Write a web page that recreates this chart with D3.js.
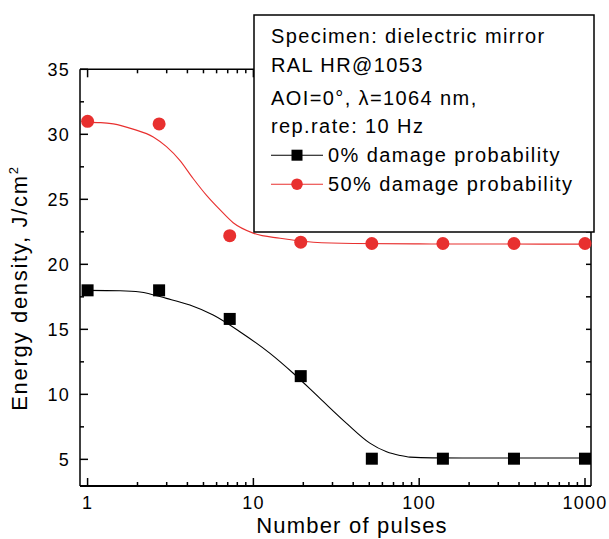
<!DOCTYPE html>
<html>
<head>
<meta charset="utf-8">
<script src="https://cdn.jsdelivr.net/npm/d3@7"></script>
<style>
  body { margin: 0; background: #fff; }
  svg text { font-family: Arial, "Liberation Sans", sans-serif; fill: #000; }
</style>
</head>
<body>
<div id="chart"></div>
<script>
// measured points
const pulses = [1, 2.7, 7.2, 19.3, 51.8, 139, 373, 1000];
const energy0 = [18.0, 18.0, 15.8, 11.4, 5.05, 5.05, 5.05, 5.05];
const energy50 = [31.0, 30.8, 22.2, 21.7, 21.6, 21.6, 21.6, 21.6];

// fitted curves
const fit0X = [1, 1.57, 2.07, 2.99, 4.14, 5.72, 8.29, 12.6, 17.4, 25.2, 36.5, 50.4, 63.6, 76.5, 88, 120, 300, 1000];
const fit0Y = [18.0, 17.97, 17.87, 17.38, 16.87, 16.1, 14.82, 13.15, 11.62, 9.69, 7.77, 6.25, 5.58, 5.3, 5.17, 5.11, 5.1, 5.1];
const fit50X = [1, 1.2, 1.43, 1.88, 2.49, 2.99, 3.6, 4.33, 5.22, 6.28, 7.55, 9.97, 14.5, 23, 40, 100, 300, 1000];
const fit50Y = [30.92, 30.9, 30.8, 30.4, 29.8, 29.05, 28.0, 26.6, 25.3, 24.2, 23.2, 22.4, 22.0, 21.7, 21.6, 21.57, 21.56, 21.55];

const xMajor = [1, 10, 100, 1000];
const yMajor = [5, 10, 15, 20, 25, 30, 35];

const legendLines = [
  "Specimen: dielectric mirror",
  "RAL HR@1053",
  "AOI=0°, λ=1064 nm,",
  "rep.rate: 10 Hz"
];
const seriesNames = ["0% damage probability", "50% damage probability"];

const RED = "#e8302f";

const width = 609, height = 539;
const plot = {left: 80, right: 591, top: 69.3, bottom: 486};

const svg = d3.select("#chart").append("svg")
  .attr("width", width)
  .attr("height", height);

const x = d3.scaleLog().domain([0.9, 1087]).range([plot.left, plot.right]);
const y = d3.scaleLinear().domain([2.95, 35]).range([plot.bottom, plot.top]);

// minor ticks: 2..9 in each decade, half steps on y
let xMinor = [];
[1, 10, 100].forEach(d => {
  for (let k = 2; k <= 9; k++) xMinor.push(d * k);
});
let yMinor = [];
for (let v = 2.5; v < 35; v += 5) if (y(v) <= plot.bottom) yMinor.push(v);

drawAxes();
drawCurves();
drawLegend();

function drawAxes() {
  const g = svg.append("g").attr("stroke", "#000").attr("stroke-width", 1.5);

  // bottom
  g.append("line")
    .attr("x1", plot.left).attr("x2", plot.right)
    .attr("y1", plot.bottom).attr("y2", plot.bottom)
    .attr("stroke-width", 2);
  // top
  g.append("line")
    .attr("x1", plot.left).attr("x2", plot.right)
    .attr("y1", plot.top).attr("y2", plot.top);
  // left
  g.append("line")
    .attr("x1", plot.left).attr("x2", plot.left)
    .attr("y1", plot.top).attr("y2", plot.bottom);
  // right
  g.append("line")
    .attr("x1", plot.right).attr("x2", plot.right)
    .attr("y1", plot.top).attr("y2", plot.bottom);

  // x ticks, inward on bottom and top
  const xt = xMajor.map(v => ({v: v, len: 8})).concat(xMinor.map(v => ({v: v, len: 4})));
  g.selectAll(".xb").data(xt).enter().append("line")
    .attr("x1", d => x(d.v)).attr("x2", d => x(d.v))
    .attr("y1", plot.bottom).attr("y2", d => plot.bottom - d.len);
  g.selectAll(".xt").data(xt).enter().append("line")
    .attr("x1", d => x(d.v)).attr("x2", d => x(d.v))
    .attr("y1", plot.top).attr("y2", d => plot.top + d.len);

  // y ticks, inward on left and right
  const yt = yMajor.map(v => ({v: v, len: 8})).concat(yMinor.map(v => ({v: v, len: 4})));
  g.selectAll(".yl").data(yt).enter().append("line")
    .attr("y1", d => y(d.v)).attr("y2", d => y(d.v))
    .attr("x1", plot.left).attr("x2", d => plot.left + d.len);
  g.selectAll(".yr").data(yt).enter().append("line")
    .attr("y1", d => y(d.v)).attr("y2", d => y(d.v))
    .attr("x1", plot.right).attr("x2", plot.right - 5);

  // tick labels
  svg.selectAll(".xlab").data(xMajor).enter().append("text")
    .attr("x", d => x(d))
    .attr("y", 509)
    .attr("text-anchor", "middle")
    .style("font-size", "18px")
    .style("letter-spacing", "1.2px")
    .text(d => d);

  svg.selectAll(".ylab").data(yMajor).enter().append("text")
    .attr("x", 70)
    .attr("y", d => y(d) + 6.5)
    .attr("text-anchor", "end")
    .style("font-size", "18px")
    .style("letter-spacing", "1.2px")
    .text(d => d);

  // axis titles
  svg.append("text")
    .attr("x", 352)
    .attr("y", 533)
    .attr("text-anchor", "middle")
    .style("font-size", "22px")
    .style("letter-spacing", "1.2px")
    .text("Number of pulses");

  const yt2 = svg.append("text")
    .attr("transform", "translate(27,288) rotate(-90)")
    .attr("text-anchor", "middle")
    .style("font-size", "22px")
    .style("letter-spacing", "1.7px");
  yt2.append("tspan").text("Energy density, J/cm");
  yt2.append("tspan").attr("dy", -9).style("font-size", "13px").text("2");
}

function drawCurves() {
  const line = d3.line()
    .x(d => x(d[0]))
    .y(d => y(d[1]))
    .curve(d3.curveMonotoneX);

  svg.append("path")
    .datum(d3.zip(fit0X, fit0Y))
    .attr("d", line)
    .attr("fill", "none")
    .attr("stroke", "#000")
    .attr("stroke-width", 1.1);

  svg.append("path")
    .datum(d3.zip(fit50X, fit50Y))
    .attr("d", line)
    .attr("fill", "none")
    .attr("stroke", RED)
    .attr("stroke-width", 1.1);

  const sq = 12;
  svg.selectAll(".sq").data(d3.zip(pulses, energy0)).enter().append("rect")
    .attr("x", d => x(d[0]) - sq / 2)
    .attr("y", d => y(d[1]) - sq / 2)
    .attr("width", sq)
    .attr("height", sq)
    .attr("fill", "#000");

  svg.selectAll(".dot").data(d3.zip(pulses, energy50)).enter().append("circle")
    .attr("cx", d => x(d[0]))
    .attr("cy", d => y(d[1]))
    .attr("r", 6.5)
    .attr("fill", RED);
}

function drawLegend() {
  const box = {x: 254, y: 15, w: 340, h: 217};
  const g = svg.append("g");
  g.append("rect")
    .attr("x", box.x).attr("y", box.y)
    .attr("width", box.w).attr("height", box.h)
    .attr("fill", "#fff")
    .attr("stroke", "#000")
    .attr("stroke-width", 1.5);

  const baselines = [43.3, 71.7, 105, 133.3];
  g.selectAll(".info").data(legendLines).enter().append("text")
    .attr("x", 271)
    .attr("y", (d, i) => baselines[i])
    .style("font-size", "20px")
    .style("letter-spacing", "1.4px")
    .text(d => d);

  const rows = [161.7, 190.7];
  const colors = ["#000", RED];
  seriesNames.forEach((name, i) => {
    const ly = rows[i] - 6.5;
    g.append("line")
      .attr("x1", 271).attr("x2", 323)
      .attr("y1", ly).attr("y2", ly)
      .attr("stroke", colors[i])
      .attr("stroke-width", 1.1);
    if (i == 0) {
      g.append("rect")
        .attr("x", 297 - 5.5).attr("y", ly - 5.5)
        .attr("width", 11).attr("height", 11)
        .attr("fill", "#000");
    } else {
      g.append("circle")
        .attr("cx", 297).attr("cy", ly)
        .attr("r", 5.8)
        .attr("fill", RED);
    }
    g.append("text")
      .attr("x", 328)
      .attr("y", rows[i])
      .style("font-size", "20px")
      .style("letter-spacing", "1.4px")
      .text(name);
  });
}
</script>
</body>
</html>
